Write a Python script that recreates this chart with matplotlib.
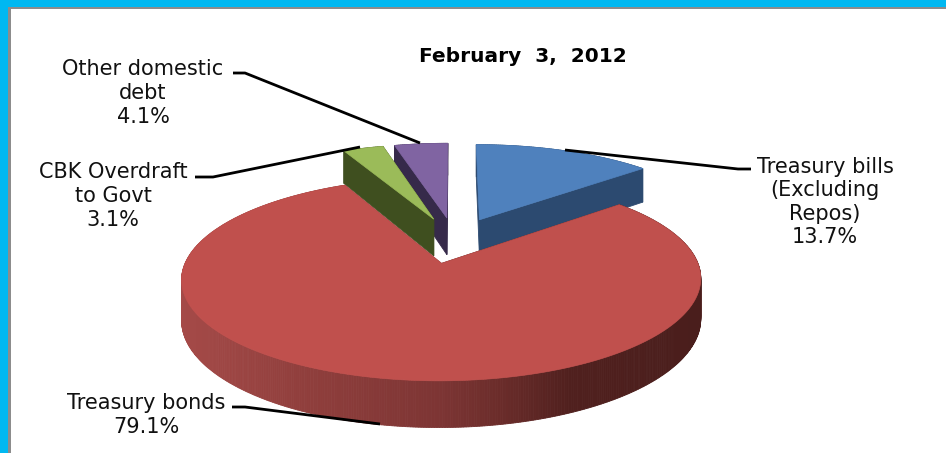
import numpy as np
import matplotlib
matplotlib.use("Agg")
import matplotlib.pyplot as plt
from matplotlib.colors import LinearSegmentedColormap
from matplotlib.patches import Rectangle

# Composition of domestic debt, percent of total
categories = ["Treasury bills", "Treasury bonds", "CBK Overdraft", "Other domestic"]
shares = [13.7, 79.1, 3.1, 4.1]
label_texts = ["Treasury bills\n(Excluding\nRepos)\n13.7%",
               "Treasury bonds\n79.1%",
               "CBK Overdraft\nto Govt\n3.1%",
               "Other domestic\ndebt\n4.1%"]
top_colors = ["#4f81bd", "#c0504d", "#9bbb59", "#8064a2"]
wall_colors = ["#2c4a70", "#7d3534", "#3f4f1f", "#362a4a"]
title_text = "February  3,  2012"

# Perspective pie geometry, in pixels
CX, CY = 454.5, 240.0
RX, RY = 247.0, 92.0
TILT = 0.15
DEPTH = 38.0
EXPLODE = 0.25

fig = plt.figure(figsize=(9.46, 4.53), dpi=100, facecolor="white")
ax = fig.add_axes([0, 0, 1, 1])
ax.set_xlim(0, 946)
ax.set_ylim(453, 0)
ax.axis("off")

# Slide frame
ax.add_patch(Rectangle((0, 0), 946, 6.5, fc="#00b8f1", ec="none", zorder=1))
ax.add_patch(Rectangle((0, 0), 8, 453, fc="#00b8f1", ec="none", zorder=1))
ax.add_patch(Rectangle((8, 6.5), 938, 2, fc="#8c8c8c", ec="none", zorder=1))
ax.add_patch(Rectangle((8, 6.5), 3, 447, fc="#8c8c8c", ec="none", zorder=1))


def project(u, v, drop=0.0):
    w = 1 + TILT * v
    return CX + RX * u / w, CY - RY * v / w + drop / w


def outline(start, end):
    """Disc coordinates of an exploded slice, angles in degrees clockwise from 12 o'clock."""
    mid = np.radians((start + end) / 2)
    ox, oy = EXPLODE * np.sin(mid), EXPLODE * np.cos(mid)
    t = np.radians(np.linspace(start, end, max(int(end - start) * 2, 8)))
    return (np.r_[ox, ox + np.sin(t)], np.r_[oy, oy + np.cos(t)])


# Angular extents of the slices come straight from the shares
edges = np.cumsum([0] + shares) / sum(shares) * 360
slices = [outline(edges[i], edges[i + 1]) for i in range(len(shares))]

red_wall = LinearSegmentedColormap.from_list(
    "red_wall",
    [(0.0, "#a54a48"), (0.25, "#8f3e3c"), (0.5, "#7d3534"),
     (0.62, "#6a2c2a"), (0.75, "#50201e"), (1.0, "#4a1e1c")])

# Back-to-front: blue, purple, green, then the large slice
for z, i in enumerate([0, 3, 2, 1]):
    u, v = slices[i]
    x, y = project(u, v)
    xd, yd = project(u, v, DEPTH)
    base = 10 + z * 2
    n = len(x)
    for j in range(n):
        k = (j + 1) % n
        if i == 1:
            frac = np.clip((0.5 * (x[j] + x[k]) - 180) / 520, 0, 1)
            col = red_wall(frac)
        else:
            col = wall_colors[i]
        ax.fill([x[j], x[k], xd[k], xd[j]], [y[j], y[k], yd[k], yd[j]],
                fc=col, ec=col, lw=0.6, zorder=base)
    ax.fill(x, y, fc=top_colors[i], ec=top_colors[i], lw=0.5, zorder=base + 1)

# Leader lines
leaders = [
    ([565, 738, 751], [150, 169, 169]),
    ([232, 245, 380], [407, 407, 424]),
    ([195, 213, 360], [177, 177, 147]),
    ([233, 245, 420], [73, 73, 143]),
]
for lx, ly in leaders:
    ax.plot(lx, ly, color="black", lw=2.0, zorder=30, solid_capstyle="butt")

# Data labels
font = dict(family="DejaVu Sans", fontsize=15.0, color="#111111", ha="center",
            va="center", linespacing=1.22, zorder=31)
ax.text(825, 202, label_texts[0], **font)
ax.text(146, 415, label_texts[1], **font)
ax.text(113, 196, label_texts[2], **font)
ax.text(143, 93, label_texts[3], **font)

ax.text(523, 57, title_text, family="DejaVu Sans", fontsize=14.5, weight="bold",
        color="black", ha="center", va="center", zorder=31)

fig.savefig("out.png", dpi=100, facecolor="white")
